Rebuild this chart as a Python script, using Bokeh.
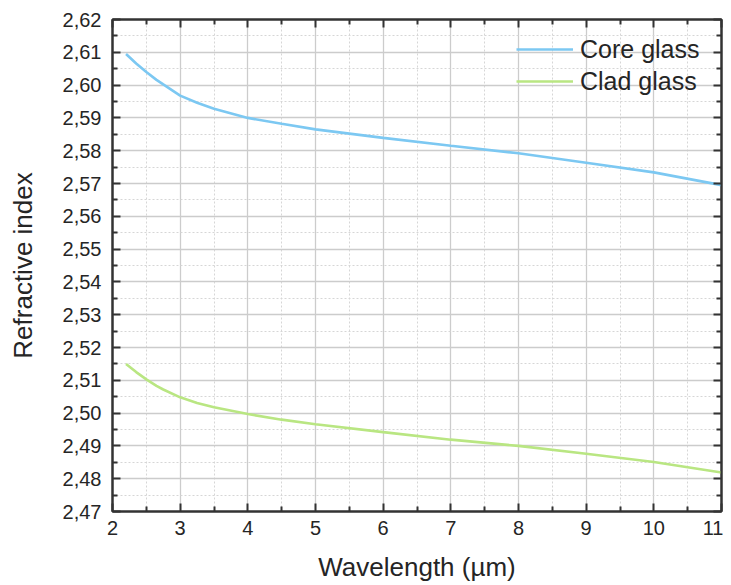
from bokeh.plotting import figure
from bokeh.models import LinearAxis, FixedTicker, Legend, LegendItem, Range1d, CustomLabelingPolicy
from bokeh.embed import file_html
from bokeh.resources import INLINE

# ---- data ----
wavelength = [2.2, 2.35, 2.5, 2.65, 2.75, 3.0, 3.25, 3.5, 4.0, 4.5, 5.0, 6.0, 7.0, 8.0, 9.0, 10.0, 11.0]
core_glass = [2.6095, 2.6066, 2.6040, 2.6016, 2.6002, 2.5968, 2.5946, 2.5928, 2.5900, 2.5882, 2.5865, 2.5839, 2.5815, 2.5792, 2.5763, 2.5734, 2.5695]
clad_glass = [2.5150, 2.5125, 2.5103, 2.5083, 2.5072, 2.5048, 2.5031, 2.5018, 2.4997, 2.4980, 2.4966, 2.4942, 2.4919, 2.4900, 2.4876, 2.4851, 2.4819]

x_ticks = [2, 3, 4, 5, 6, 7, 8, 9, 10, 11]
x_minor = [2.5, 3.5, 4.5, 5.5, 6.5, 7.5, 8.5, 9.5, 10.5]
y_ticks = [2.47, 2.48, 2.49, 2.50, 2.51, 2.52, 2.53, 2.54, 2.55, 2.56, 2.57, 2.58, 2.59, 2.60, 2.61, 2.62]
y_tick_labels = ["2,47", "2,48", "2,49", "2,50", "2,51", "2,52", "2,53", "2,54", "2,55", "2,56", "2,57", "2,58", "2,59", "2,60", "2,61", "2,62"]
y_minor = [2.475, 2.485, 2.495, 2.505, 2.515, 2.525, 2.535, 2.545, 2.555, 2.565, 2.575, 2.585, 2.595, 2.605, 2.615]

series_names = ["Core glass", "Clad glass"]
series_colors = ["#7cc8f2", "#b9e682"]

FONT = "Liberation Sans"
TXT = "#252525"
AX = "#333333"

p = figure(width=723, height=584, output_backend="svg", toolbar_location=None,
           x_range=Range1d(2, 11), y_range=Range1d(2.47, 2.62),
           min_border_left=112, min_border_right=2, min_border_top=19, min_border_bottom=73,
           x_axis_label="Wavelength (µm)", y_axis_label="Refractive index")
p.background_fill_color = "white"
p.border_fill_color = "white"
p.outline_line_color = AX
p.outline_line_width = 2

xt = FixedTicker(ticks=x_ticks, minor_ticks=x_minor)
yt = FixedTicker(ticks=y_ticks, minor_ticks=y_minor)
p.xaxis.ticker = xt
p.yaxis.ticker = yt
p.yaxis.major_label_overrides = dict(zip(y_ticks, y_tick_labels))


def style_axis(ax):
    ax.axis_line_color = AX
    ax.axis_line_width = 2
    ax.major_tick_in = 8
    ax.major_tick_out = 0
    ax.minor_tick_in = 5
    ax.minor_tick_out = 0
    ax.major_tick_line_color = AX
    ax.major_tick_line_width = 2
    ax.minor_tick_line_color = AX
    ax.minor_tick_line_width = 2


for ax in (p.xaxis[0], p.yaxis[0]):
    style_axis(ax)
    ax.major_label_text_font = FONT
    ax.major_label_text_font_size = "20px"
    ax.major_label_text_color = TXT
    ax.axis_label_text_font = FONT
    ax.axis_label_text_font_size = "26px"
    ax.axis_label_text_font_style = "normal"
    ax.axis_label_text_color = TXT

p.xaxis.major_label_standoff = 9
p.xaxis.axis_label_standoff = 14
p.yaxis.major_label_standoff = 11
p.yaxis.axis_label_standoff = 22

# mirrored axes (ticks only, no labels)
no_labels = CustomLabelingPolicy(code="""
for (let i = 0; i < indices.size; i++) { indices.unset(i) }
return indices
""")
for loc, tick in (("right", yt), ("above", xt)):
    ax = LinearAxis(ticker=tick)
    style_axis(ax)
    ax.major_label_policy = no_labels
    ax.major_label_text_font_size = "0px"
    ax.major_label_standoff = 0
    p.add_layout(ax, loc)

for g in (p.xgrid[0], p.ygrid[0]):
    g.grid_line_color = "#cccccc"
    g.grid_line_width = 1.3
    g.minor_grid_line_color = "#d6d6d6"
    g.minor_grid_line_width = 1
    g.minor_grid_line_dash = "2 2"

r_core = p.line(wavelength, core_glass, line_color=series_colors[0], line_width=2.6)
r_clad = p.line(wavelength, clad_glass, line_color=series_colors[1], line_width=2.6)

legend = Legend(items=[LegendItem(label=series_names[0], renderers=[r_core]),
                       LegendItem(label=series_names[1], renderers=[r_clad])],
                location=(404, 414))
legend.background_fill_alpha = 0
legend.border_line_alpha = 0
legend.padding = 0
legend.margin = 0
legend.spacing = 0
legend.glyph_width = 57
legend.glyph_height = 32
legend.label_height = 32
legend.label_standoff = 7
legend.label_text_font = FONT
legend.label_text_font_size = "25px"
legend.label_text_color = TXT
p.add_layout(legend)

open("out.html", "w").write(file_html(p, INLINE))
